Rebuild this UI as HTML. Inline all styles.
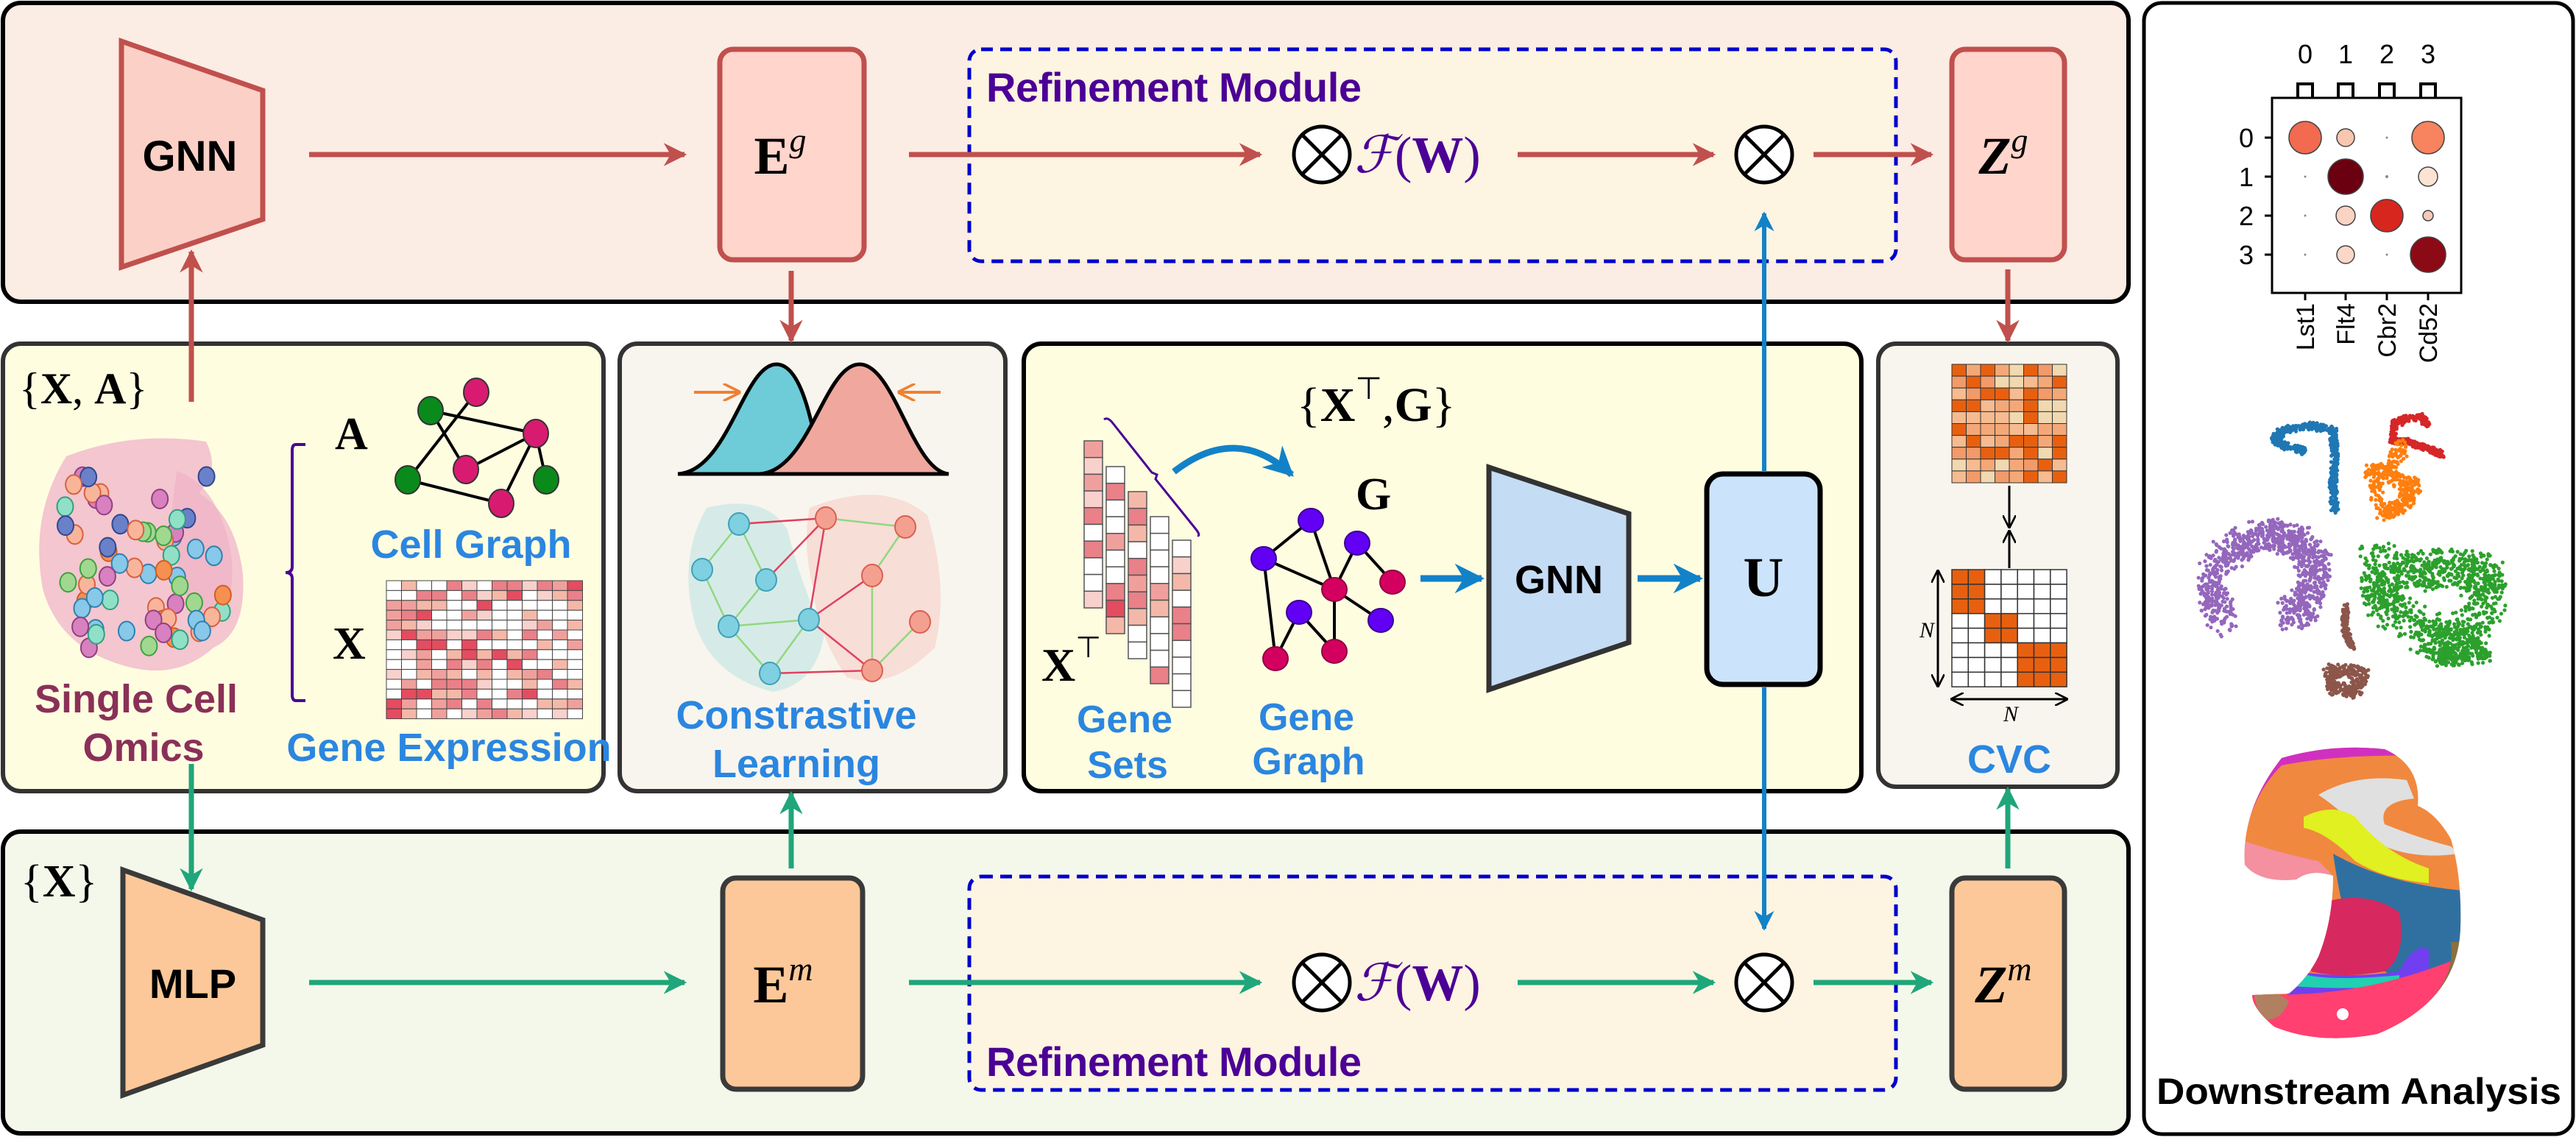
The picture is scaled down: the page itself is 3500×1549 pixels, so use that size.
<!DOCTYPE html>
<html><head><meta charset="utf-8">
<style>
html,body{margin:0;padding:0;background:#fff;}
svg{display:block;}
.lbl{font-family:"Liberation Sans Narrow","Liberation Sans",sans-serif;font-weight:bold;}
.m{font-family:"Liberation Serif",serif;font-weight:bold;}
</style></head>
<body>
<svg id="s" width="3500" height="1549" viewBox="0 0 3500 1549" xmlns="http://www.w3.org/2000/svg">
<defs>
<marker id="ar" viewBox="0 0 10 10" refX="9" refY="5" markerWidth="4.5" markerHeight="4.5" orient="auto"><path d="M0,0 L10,5 L0,10 L3,5z" fill="#c0504d"/></marker>
<marker id="ag" viewBox="0 0 10 10" refX="9" refY="5" markerWidth="4.5" markerHeight="4.5" orient="auto"><path d="M0,0 L10,5 L0,10 L3,5z" fill="#1fa67a"/></marker>
<marker id="ab" viewBox="0 0 10 10" refX="9" refY="5" markerWidth="4.5" markerHeight="4.5" orient="auto"><path d="M0,0 L10,5 L0,10 L3,5z" fill="#1282c8"/></marker>
<marker id="ak" viewBox="0 0 10 10" refX="9" refY="5" markerWidth="6" markerHeight="6" orient="auto"><path d="M0,0 L10,5 L0,10" fill="none" stroke="#000" stroke-width="1.5"/></marker>
<marker id="ao" viewBox="0 0 10 10" refX="9" refY="5" markerWidth="6" markerHeight="6" orient="auto"><path d="M0,0 L10,5 L0,10" fill="none" stroke="#f08030" stroke-width="1.5"/></marker>
<marker id="ac" viewBox="0 0 10 10" refX="9" refY="5" markerWidth="5" markerHeight="5" orient="auto"><path d="M0,0 L10,5 L0,10 L3,5z" fill="#90d880"/></marker>
<marker id="ax" viewBox="0 0 10 10" refX="9" refY="5" markerWidth="5" markerHeight="5" orient="auto"><path d="M0,0 L10,5 L0,10 L3,5z" fill="#e04060"/></marker>
<clipPath id="tis"><path d="M3100,1030 Q3170,1010 3240,1018 Q3290,1040 3285,1095 Q3310,1105 3330,1140 Q3345,1190 3343,1260 Q3340,1360 3230,1405 Q3150,1420 3090,1395 Q3060,1370 3060,1352 L3110,1350 Q3135,1330 3150,1300 Q3170,1250 3170,1190 Q3140,1180 3120,1195 Q3070,1200 3050,1175 Q3045,1100 3100,1030z"/></clipPath>
</defs>

<!-- main panels -->
<rect x="4" y="4" width="2888" height="406" rx="24" fill="#fbece4" stroke="#000" stroke-width="6"/>
<rect x="4" y="1130" width="2888" height="410" rx="24" fill="#f4f8ea" stroke="#000" stroke-width="6"/>
<rect x="2913" y="4" width="583" height="1537" rx="24" fill="#fff" stroke="#000" stroke-width="5"/>
<rect x="4" y="467" width="816" height="608" rx="24" fill="#fffde0" stroke="#333" stroke-width="6"/>
<rect x="842" y="467" width="524" height="608" rx="24" fill="#f8f5ee" stroke="#333" stroke-width="6"/>
<rect x="1391" y="467" width="1138" height="608" rx="24" fill="#fffde0" stroke="#000" stroke-width="6"/>
<rect x="2552" y="467" width="325" height="602" rx="24" fill="#f8f5ee" stroke="#333" stroke-width="6"/>

<!-- refinement boxes -->
<rect x="1317" y="67" width="1259" height="288" rx="16" fill="#fdf4e2" stroke="#0000cc" stroke-width="5" stroke-dasharray="16,10"/>
<rect x="1317" y="1191" width="1259" height="290" rx="16" fill="#fdf4e2" stroke="#0000cc" stroke-width="5" stroke-dasharray="16,10"/>
<text x="1340" y="138" class="lbl" font-size="56" fill="#4b0096" textLength="510">Refinement Module</text>
<text x="1340" y="1462" class="lbl" font-size="56" fill="#4b0096" textLength="510">Refinement Module</text>

<!-- top row -->
<path d="M165,56 L357,123 L357,298 L165,363z" fill="#fbd0c6" stroke="#c0504d" stroke-width="7"/>
<text x="258" y="232" class="lbl" font-size="58" text-anchor="middle" fill="#000">GNN</text>
<rect x="978" y="67" width="196" height="286" rx="18" fill="#ffd5cc" stroke="#c0504d" stroke-width="7"/>
<text x="1060" y="236" class="m" font-size="72" text-anchor="middle">E<tspan font-style="italic" font-weight="normal" font-size="46" dy="-30">g</tspan></text>
<rect x="2652" y="67" width="153" height="286" rx="18" fill="#ffd5cc" stroke="#c0504d" stroke-width="7"/>
<text x="2722" y="236" class="m" font-size="72" text-anchor="middle" font-style="italic">Z<tspan font-weight="normal" font-size="46" dy="-30">g</tspan></text>
<g stroke="#c0504d" stroke-width="7" fill="none">
<line x1="420" y1="210" x2="930" y2="210" marker-end="url(#ar)"/>
<line x1="1235" y1="210" x2="1712" y2="210" marker-end="url(#ar)"/>
<line x1="2062" y1="210" x2="2328" y2="210" marker-end="url(#ar)"/>
<line x1="2464" y1="210" x2="2624" y2="210" marker-end="url(#ar)"/>
<line x1="1075" y1="368" x2="1075" y2="463" marker-end="url(#ar)"/>
<line x1="2728" y1="366" x2="2728" y2="463" marker-end="url(#ar)"/>
<line x1="260" y1="546" x2="260" y2="342" marker-end="url(#ar)"/>
</g>
<g stroke="#000" stroke-width="5" fill="#fff">
<circle cx="1796" cy="210" r="38"/><line x1="1769" y1="183" x2="1823" y2="237"/><line x1="1823" y1="183" x2="1769" y2="237"/>
<circle cx="2397" cy="210" r="38"/><line x1="2370" y1="183" x2="2424" y2="237"/><line x1="2424" y1="183" x2="2370" y2="237"/>
<circle cx="1796" cy="1335" r="38"/><line x1="1769" y1="1308" x2="1823" y2="1362"/><line x1="1823" y1="1308" x2="1769" y2="1362"/>
<circle cx="2397" cy="1335" r="38"/><line x1="2370" y1="1308" x2="2424" y2="1362"/><line x1="2424" y1="1308" x2="2370" y2="1362"/>
</g>
<text x="1840" y="234" font-family="Liberation Serif,serif" font-size="70" fill="#4b0096"><tspan font-style="italic">ℱ</tspan>(<tspan font-weight="bold">W</tspan>)</text>
<text x="1840" y="1359" font-family="Liberation Serif,serif" font-size="70" fill="#4b0096"><tspan font-style="italic">ℱ</tspan>(<tspan font-weight="bold">W</tspan>)</text>

<!-- bottom row -->
<text x="28" y="1218" font-family="Liberation Serif,serif" font-size="62">{<tspan font-weight="bold">X</tspan>}</text>
<path d="M167,1182 L357,1250 L357,1420 L167,1488z" fill="#fdc899" stroke="#3a3a3a" stroke-width="7"/>
<text x="262" y="1356" class="lbl" font-size="56" text-anchor="middle">MLP</text>
<rect x="982" y="1193" width="190" height="287" rx="18" fill="#fdc899" stroke="#3a3a3a" stroke-width="7"/>
<text x="1064" y="1362" class="m" font-size="72" text-anchor="middle">E<tspan font-style="italic" font-weight="normal" font-size="46" dy="-30">m</tspan></text>
<rect x="2652" y="1193" width="153" height="287" rx="18" fill="#fdc899" stroke="#3a3a3a" stroke-width="7"/>
<text x="2722" y="1362" class="m" font-size="72" text-anchor="middle" font-style="italic">Z<tspan font-weight="normal" font-size="46" dy="-30">m</tspan></text>
<g stroke="#1fa67a" stroke-width="7" fill="none">
<line x1="420" y1="1335" x2="930" y2="1335" marker-end="url(#ag)"/>
<line x1="1235" y1="1335" x2="1712" y2="1335" marker-end="url(#ag)"/>
<line x1="2062" y1="1335" x2="2328" y2="1335" marker-end="url(#ag)"/>
<line x1="2464" y1="1335" x2="2624" y2="1335" marker-end="url(#ag)"/>
<line x1="260" y1="1038" x2="260" y2="1208" marker-end="url(#ag)"/>
<line x1="1075" y1="1180" x2="1075" y2="1078" marker-end="url(#ag)"/>
<line x1="2728" y1="1180" x2="2728" y2="1072" marker-end="url(#ag)"/>
</g>

<!-- box1 -->
<text x="26" y="548" font-family="Liberation Serif,serif" font-size="60">{<tspan font-weight="bold">X</tspan>, <tspan font-weight="bold">A</tspan>}</text>
<path d="M90,620 Q180,585 280,600 Q300,640 270,670 Q320,700 330,780 Q335,860 290,880 Q240,925 170,905 Q80,880 58,800 Q40,700 90,620z" fill="#f4c6cf"/>
<path d="M240,640 Q300,660 315,760 Q320,850 270,865 Q250,800 230,720z" fill="#eeb2c6" opacity="0.7"/>
<g id="cells"></g>
<text x="185" y="968" class="lbl" font-size="54" fill="#8a3058" text-anchor="middle">Single Cell</text>
<text x="195" y="1034" class="lbl" font-size="54" fill="#8a3058" text-anchor="middle">Omics</text>
<path d="M415,604 L402,604 Q397,604 397,612 L397,770 Q397,778 388,778 Q397,778 397,786 L397,944 Q397,952 402,952 L415,952" fill="none" stroke="#4b0096" stroke-width="4"/>
<text x="455" y="610" class="m" font-size="62">A</text>
<g stroke="#000" stroke-width="4">
<line x1="585" y1="558" x2="728" y2="589"/><line x1="585" y1="558" x2="633" y2="638"/><line x1="647" y1="533" x2="554" y2="652"/>
<line x1="728" y1="589" x2="633" y2="638"/><line x1="728" y1="589" x2="742" y2="652"/><line x1="728" y1="589" x2="681" y2="684"/><line x1="554" y1="652" x2="681" y2="684"/>
</g>
<g stroke="#333" stroke-width="2">
<ellipse cx="585" cy="558" rx="17" ry="19" fill="#0a8a1a"/><ellipse cx="554" cy="652" rx="17" ry="19" fill="#0a8a1a"/><ellipse cx="742" cy="652" rx="17" ry="19" fill="#0a8a1a"/>
<ellipse cx="647" cy="533" rx="17" ry="19" fill="#d81b70"/><ellipse cx="728" cy="589" rx="17" ry="19" fill="#d81b70"/><ellipse cx="633" cy="638" rx="17" ry="19" fill="#d81b70"/><ellipse cx="681" cy="684" rx="17" ry="19" fill="#d81b70"/>
</g>
<text x="640" y="758" class="lbl" font-size="54" fill="#2b86e0" text-anchor="middle">Cell Graph</text>
<text x="452" y="895" class="m" font-size="62">X</text>
<g id="hm1"></g>
<text x="610" y="1034" class="lbl" font-size="54" fill="#2b86e0" text-anchor="middle">Gene Expression</text>

<!-- box2 -->
<path d="M921,644 C990,640 1010,495 1055,495 C1090,495 1105,580 1116,644z" fill="#6ecbd8" stroke="#000" stroke-width="5"/>
<path d="M1032,644 C1100,640 1120,495 1168,495 C1215,495 1240,640 1289,644z" fill="#f0a79e" stroke="#000" stroke-width="5"/>
<line x1="943" y1="533" x2="1004" y2="533" stroke="#f08030" stroke-width="4" marker-end="url(#ao)"/>
<line x1="1278" y1="533" x2="1222" y2="533" stroke="#f08030" stroke-width="4" marker-end="url(#ao)"/>
<path d="M960,690 Q1040,670 1070,720 Q1090,800 1120,860 Q1110,930 1050,940 Q970,920 945,850 Q920,760 960,690z" fill="#bfe5e3" opacity="0.6"/>
<path d="M1100,690 Q1200,650 1260,700 Q1290,800 1270,880 Q1210,940 1150,920 Q1110,860 1105,800 Q1090,740 1100,690z" fill="#f6cfc8" opacity="0.6"/>
<g id="cg"></g>
<text x="1082" y="990" class="lbl" font-size="54" fill="#2b86e0" text-anchor="middle">Constrastive</text>
<text x="1082" y="1056" class="lbl" font-size="54" fill="#2b86e0" text-anchor="middle">Learning</text>

<!-- box3 -->
<text x="1762" y="572" font-family="Liberation Serif,serif" font-size="66">{<tspan font-weight="bold">X</tspan><tspan font-size="42" dy="-30">⊤</tspan><tspan dy="30">,</tspan><tspan font-weight="bold">G</tspan>}</text>
<g id="bars"></g>
<path d="M1500,570 Q1505,566 1512,575 L1565,642 L1572,645 L1570,651 L1624,718 Q1632,728 1627,728" fill="none" stroke="#4b0096" stroke-width="3"/>
<path d="M1595,641 Q1680,575 1755,645" fill="none" stroke="#1282c8" stroke-width="9" marker-end="url(#ab)"/>
<text x="1415" y="925" class="m" font-size="64">X<tspan font-weight="normal" font-size="40" dy="-32">⊤</tspan></text>
<text x="1842" y="692" class="m" font-size="62">G</text>
<g stroke="#000" stroke-width="4">
<line x1="1781" y1="707" x2="1717" y2="759"/><line x1="1781" y1="707" x2="1813" y2="801"/><line x1="1717" y1="759" x2="1813" y2="801"/>
<line x1="1844" y1="738" x2="1813" y2="801"/><line x1="1844" y1="738" x2="1892" y2="791"/><line x1="1813" y1="801" x2="1876" y2="843"/>
<line x1="1813" y1="801" x2="1813" y2="885"/><line x1="1765" y1="832" x2="1733" y2="895"/><line x1="1765" y1="832" x2="1813" y2="885"/><line x1="1717" y1="759" x2="1733" y2="895"/>
</g>
<g stroke="#3a0090" stroke-width="2" fill="#6200f5">
<ellipse cx="1781" cy="707" rx="17" ry="16"/><ellipse cx="1717" cy="759" rx="17" ry="16"/><ellipse cx="1844" cy="738" rx="17" ry="16"/><ellipse cx="1765" cy="832" rx="17" ry="16"/><ellipse cx="1876" cy="843" rx="17" ry="16"/>
</g>
<g stroke="#900040" stroke-width="2" fill="#d4005f">
<ellipse cx="1813" cy="801" rx="17" ry="16"/><ellipse cx="1892" cy="791" rx="17" ry="16"/><ellipse cx="1733" cy="895" rx="17" ry="16"/><ellipse cx="1813" cy="885" rx="17" ry="16"/>
</g>
<text x="1528" y="995" class="lbl" font-size="52" fill="#2b86e0" text-anchor="middle">Gene</text>
<text x="1532" y="1057" class="lbl" font-size="52" fill="#2b86e0" text-anchor="middle">Sets</text>
<text x="1775" y="992" class="lbl" font-size="52" fill="#2b86e0" text-anchor="middle">Gene</text>
<text x="1778" y="1052" class="lbl" font-size="52" fill="#2b86e0" text-anchor="middle">Graph</text>
<line x1="1930" y1="786" x2="2013" y2="786" stroke="#1282c8" stroke-width="9" marker-end="url(#ab)"/>
<path d="M2023,635 L2213,698 L2213,873 L2023,937z" fill="#c5dcf5" stroke="#333" stroke-width="7"/>
<text x="2118" y="806" class="lbl" font-size="54" text-anchor="middle">GNN</text>
<line x1="2225" y1="786" x2="2310" y2="786" stroke="#1282c8" stroke-width="9" marker-end="url(#ab)"/>
<rect x="2319" y="644" width="154" height="286" rx="22" fill="#cce4fb" stroke="#000" stroke-width="7"/>
<text x="2396" y="810" class="m" font-size="76" text-anchor="middle">U</text>
<line x1="2397" y1="640" x2="2397" y2="290" stroke="#1282c8" stroke-width="6" marker-end="url(#ab)"/>
<line x1="2397" y1="934" x2="2397" y2="1262" stroke="#1282c8" stroke-width="6" marker-end="url(#ab)"/>

<!-- box4 -->
<g id="hm2"></g>
<g id="hm3"></g>
<line x1="2730" y1="660" x2="2730" y2="716" stroke="#000" stroke-width="3" marker-end="url(#ak)"/>
<line x1="2730" y1="772" x2="2730" y2="722" stroke="#000" stroke-width="3" marker-end="url(#ak)"/>
<line x1="2633" y1="776" x2="2633" y2="932" stroke="#000" stroke-width="3" marker-end="url(#ak)"/>
<line x1="2633" y1="932" x2="2633" y2="776" stroke="#000" stroke-width="3" marker-end="url(#ak)"/>
<line x1="2652" y1="950" x2="2808" y2="950" stroke="#000" stroke-width="3" marker-end="url(#ak)"/>
<line x1="2808" y1="950" x2="2652" y2="950" stroke="#000" stroke-width="3" marker-end="url(#ak)"/>
<text x="2608" y="866" font-family="Liberation Serif,serif" font-style="italic" font-size="30">N</text>
<text x="2722" y="980" font-family="Liberation Serif,serif" font-style="italic" font-size="30">N</text>
<text x="2730" y="1050" class="lbl" font-size="54" fill="#2b86e0" text-anchor="middle">CVC</text>

<!-- right panel: dot plot -->
<rect x="3087" y="133" width="257" height="265" fill="none" stroke="#000" stroke-width="3"/>
<g font-family="Liberation Sans,sans-serif" font-size="36" text-anchor="middle">
<text x="3132" y="86">0</text><text x="3187" y="86">1</text><text x="3243" y="86">2</text><text x="3299" y="86">3</text>
<text x="3052" y="200">0</text><text x="3052" y="253">1</text><text x="3052" y="306">2</text><text x="3052" y="359">3</text>
</g>
<g stroke="#000" stroke-width="4" fill="none">
<path d="M3122,133 V114 H3142 V133"/><path d="M3177,133 V114 H3197 V133"/><path d="M3233,133 V114 H3253 V133"/><path d="M3289,133 V114 H3309 V133"/>
<path d="M3087,187 h-10 M3087,240 h-10 M3087,293 h-10 M3087,346 h-10 M3132,398 v10 M3187,398 v10 M3243,398 v10 M3299,398 v10" stroke-width="3"/>
</g>
<g font-family="Liberation Sans,sans-serif" font-size="34" text-anchor="end">
<text transform="translate(3144,412) rotate(-90)">Lst1</text>
<text transform="translate(3199,412) rotate(-90)">Flt4</text>
<text transform="translate(3255,412) rotate(-90)">Cbr2</text>
<text transform="translate(3311,412) rotate(-90)">Cd52</text>
</g>
<g stroke="#444" stroke-width="1.5">
<circle cx="3132" cy="187" r="22" fill="#f26a4f"/><circle cx="3187" cy="187" r="12" fill="#f9c6b0"/><circle cx="3299" cy="187" r="22" fill="#f7835f"/>
<circle cx="3187" cy="240" r="24" fill="#6b0010"/><circle cx="3299" cy="240" r="13" fill="#fde3d3"/>
<circle cx="3187" cy="293" r="13" fill="#fbd3c3"/><circle cx="3243" cy="293" r="22" fill="#d7261e"/><circle cx="3299" cy="293" r="7" fill="#f8c8b8"/>
<circle cx="3187" cy="346" r="12" fill="#fbd7c7"/><circle cx="3299" cy="346" r="24" fill="#8b0a15"/>
</g>
<g fill="#888"><circle cx="3243" cy="187" r="1.5"/><circle cx="3132" cy="240" r="1.5"/><circle cx="3243" cy="240" r="2"/><circle cx="3132" cy="293" r="1.5"/><circle cx="3132" cy="346" r="1.5"/><circle cx="3243" cy="346" r="1.5"/></g>
<g id="umap"></g>
<g clip-path="url(#tis)">
<rect x="3040" y="1000" width="320" height="420" fill="#f08840"/>
<path d="M3040,1000 H3360 V1030 Q3200,1020 3100,1040 Q3060,1080 3050,1140 H3040z" fill="#d030c0"/>
<path d="M3150,1080 Q3200,1050 3270,1060 L3280,1085 Q3230,1090 3240,1120 Q3290,1140 3330,1150 L3340,1160 Q3270,1170 3220,1140 Q3180,1100 3150,1080z" fill="#e0e0e0"/>
<path d="M3130,1110 Q3170,1090 3200,1110 Q3240,1160 3300,1180 L3300,1200 Q3240,1195 3200,1170 Q3160,1130 3130,1125z" fill="#e0f020"/>
<path d="M3040,1140 Q3100,1160 3150,1170 L3170,1190 Q3130,1210 3090,1200 Q3050,1195 3040,1180z" fill="#f490a0"/>
<path d="M3040,1190 Q3100,1210 3160,1205 L3160,1230 L3040,1230z" fill="#b08060"/>
<path d="M3170,1160 Q3240,1200 3345,1210 V1300 Q3300,1330 3260,1330 L3200,1300 Q3180,1230 3170,1160z" fill="#3070a0"/>
<path d="M3160,1225 Q3220,1210 3260,1240 Q3270,1300 3240,1320 Q3180,1330 3140,1320 Q3140,1270 3160,1225z" fill="#d82860"/>
<path d="M3120,1320 Q3190,1330 3260,1320 Q3280,1280 3300,1290 L3300,1370 L3100,1370z" fill="#7040f0"/>
<path d="M3120,1320 Q3150,1335 3260,1325 L3260,1340 Q3180,1345 3115,1340z" fill="#20d0b0"/>
<path d="M3060,1350 Q3200,1360 3345,1300 V1420 H3060z" fill="#ff4070"/>
<path d="M3330,1280 Q3340,1350 3240,1405 Q3150,1420 3080,1395 V1420 H3360 V1280z" fill="#8a7040"/>
<path d="M3060,1340 Q3090,1345 3110,1360 Q3100,1390 3070,1385z" fill="#b08060"/>
<circle cx="3183" cy="1378" r="8" fill="#fff"/>
</g>
<text x="3205" y="1500" class="lbl" font-size="50" text-anchor="middle" textLength="550" lengthAdjust="spacingAndGlyphs" font-family="Liberation Sans,sans-serif">Downstream Analysis</text>
</svg>
<script>
var NS="http://www.w3.org/2000/svg";
function el(p,t,a){var e=document.createElementNS(NS,t);for(var k in a)e.setAttribute(k,a[k]);document.getElementById(p).appendChild(e);return e;}
var seed=7;function rnd(){seed=(seed*16807)%2147483647;return (seed-1)/2147483646;}
var reds=["#fff","#fff","#fff","#fff","#f8d0cc","#f0a09c","#ea8088","#e44c60","#f4b8a8"];
// gene expression heatmap
for(var r=0;r<14;r++)for(var c=0;c<13;c++){el("hm1","rect",{x:525+c*20.5,y:789+r*13.4,width:20.5,height:13.4,fill:reds[Math.floor(rnd()*reds.length)],stroke:"#444","stroke-width":1});}
// bars
var bx=[1473,1503,1533,1563,1593],by=[599,634,668,702,734];
for(var i=0;i<5;i++)for(var j=0;j<10;j++){el("bars","rect",{x:bx[i],y:by[j*0+i]+j*22.7,width:25,height:22.7,fill:reds[Math.floor(rnd()*reds.length)],stroke:"#555","stroke-width":1.5});}
// cvc top
var oc=["#e8600f","#f29a6a","#f6bb90","#f0d8b0","#e8600f","#f4a878"];
for(var r=0;r<10;r++)for(var c=0;c<8;c++){el("hm2","rect",{x:2652+c*19.5,y:495+r*16.1,width:19.5,height:16.1,fill:oc[Math.floor(rnd()*oc.length)],stroke:"#333","stroke-width":1});}
// cvc bottom
function blk(r,c){return (r<3&&c<2)||(r>=3&&r<5&&c>=2&&c<4)||(r>=5&&c>=4);}
for(var r=0;r<8;r++)for(var c=0;c<7;c++){el("hm3","rect",{x:2652+c*22.3,y:774+r*19.9,width:22.3,height:19.9,fill:blk(r,c)?"#e8600f":"#fff",stroke:"#333","stroke-width":1.5});}
// cells
var cc=[["#f9b59a","#d86040"],["#f59050","#d06020"],["#6a80c8","#304890"],["#a0d890","#40a040"],["#d880c0","#904080"],["#88c8e8","#3080b0"],["#90e0c8","#30a080"]];
for(var k=0;k<75;k++){var x=70+rnd()*240,y=615+rnd()*280;var d=Math.hypot((x-190)/130,(y-755)/150);if(d>1)continue;var col=cc[Math.floor(rnd()*cc.length)];el("cells","ellipse",{cx:x,cy:y,rx:11,ry:13,fill:col[0],stroke:col[1],"stroke-width":2});}
// contrastive graph
var cn=[[1004,712],[954,774],[1041,788],[990,851],[1099,842],[1046,915]],rn=[[1122,704],[1230,716],[1185,782],[1250,845],[1185,911]];
var ge=[[0,1],[0,2],[1,3],[2,3],[3,4],[4,5],[3,5]];
ge.forEach(function(e){el("cg","line",{x1:cn[e[0]][0],y1:cn[e[0]][1],x2:cn[e[1]][0],y2:cn[e[1]][1],stroke:"#90d880","stroke-width":2.5});});
[[0,1],[1,2],[2,4],[4,3]].forEach(function(e){el("cg","line",{x1:rn[e[0]][0],y1:rn[e[0]][1],x2:rn[e[1]][0],y2:rn[e[1]][1],stroke:"#90d880","stroke-width":2.5});});
[[cn[0],rn[0]],[cn[2],rn[0]],[cn[4],rn[2]],[cn[4],rn[4]],[cn[5],rn[4]],[cn[4],rn[0]]].forEach(function(p){el("cg","line",{x1:p[0][0],y1:p[0][1],x2:p[1][0],y2:p[1][1],stroke:"#e04060","stroke-width":2.5});});
cn.forEach(function(p){el("cg","ellipse",{cx:p[0],cy:p[1],rx:14,ry:15,fill:"#7fd0e0",stroke:"#40a0b8","stroke-width":2});});
rn.forEach(function(p){el("cg","ellipse",{cx:p[0],cy:p[1],rx:14,ry:15,fill:"#f4a090",stroke:"#d86050","stroke-width":2});});
// umap
function pathPts(pts,n,sp,col){for(var k=0;k<n;k++){var t=rnd()*(pts.length-1),i=Math.floor(t),f=t-i;var x=pts[i][0]+(pts[i+1][0]-pts[i][0])*f+(rnd()-.5)*sp,y=pts[i][1]+(pts[i+1][1]-pts[i][1])*f+(rnd()-.5)*sp;el("umap","circle",{cx:x,cy:y,r:2.6,fill:col});}}
pathPts([[3130,613],[3090,600],[3100,585],[3140,578],[3170,585],[3172,620],[3170,660],[3172,695]],500,10,"#1f77b4");
pathPts([[3262,574],[3262,570],[3290,566],[3298,578]],150,8,"#d62728");
pathPts([[3255,570],[3250,600],[3270,600],[3300,610],[3318,618]],250,8,"#d62728");
pathPts([[3262,605],[3250,640],[3222,640],[3240,700],[3270,680],[3280,660],[3250,650]],400,20,"#ff7f0e");
pathPts([[3020,850],[3005,790],[3030,745],[3080,725],[3120,735],[3148,770],[3135,820],[3110,840]],1000,40,"#9467bd");
pathPts([[3225,760],[3270,780],[3320,770],[3375,780],[3380,810],[3350,860],[3330,880],[3300,860],[3240,820],[3230,790]],1200,50,"#2ca02c");
pathPts([[3360,870],[3380,895],[3315,900],[3330,880]],150,12,"#2ca02c");
pathPts([[3188,822],[3185,850],[3195,880]],120,8,"#8c564b");
pathPts([[3165,910],[3210,915],[3200,940],[3170,935],[3165,910]],300,18,"#8c564b");
</script>
</body></html>
